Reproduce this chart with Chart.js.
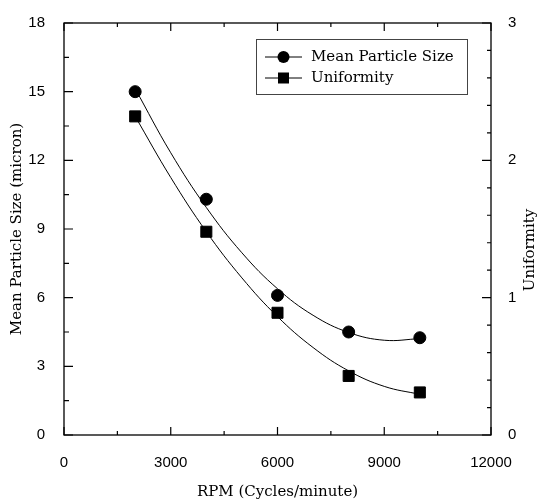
<!DOCTYPE html>
<html>
<head>
<meta charset="utf-8">
<script src="https://cdn.jsdelivr.net/npm/chart.js@4.4.0/dist/chart.umd.min.js"></script>
<style>
    html, body { margin: 0; padding: 0; background: #fff; }
    #wrap { width: 538px; height: 502px; }
</style>
</head>
<body>
<div id="wrap"><canvas id="myChart"></canvas></div>
<script>
// measured points
var rpm = [2000, 4000, 6000, 8000, 10000];
var meanSize = [15.0, 10.3, 6.1, 4.5, 4.25];     // micron, left axis
var uniformity = [2.32, 1.48, 0.89, 0.43, 0.31]; // right axis

// fitted curves
var curveRpm = [2000, 3000, 4000, 5000, 6000, 7000, 8000, 9000, 10000];
var sizeCurve = [15.13, 12.33, 9.94, 7.96, 6.39, 5.23, 4.48, 4.14, 4.21];
var uniformityCurve = [2.32, 1.875, 1.48, 1.144, 0.862, 0.637, 0.467, 0.354, 0.296];

var xTicks = [0, 3000, 6000, 9000, 12000];
var yTicks = [0, 3, 6, 9, 12, 15, 18];
var y2Ticks = [0, 1, 2, 3];

function toPoints(xs, ys) {
    var out = [];
    for (var i = 0; i < xs.length; i++) {
        out.push({ x: xs[i], y: ys[i] });
    }
    return out;
}

var serif = '"DejaVu Serif", "Liberation Serif", serif';
var sans = '"Liberation Sans", Arial, sans-serif';

// frame, inward tick marks, legend box and right axis title
var decorations = {
    id: 'decorations',
    afterDraw: function(chart) {
        var ctx = chart.ctx;
        var area = chart.chartArea;
        var x = chart.scales.x, y = chart.scales.y, y2 = chart.scales.y2;
        var v, p, len;

        ctx.save();
        ctx.strokeStyle = '#000';
        ctx.lineWidth = 1.3;
        ctx.strokeRect(area.left, area.top, area.right - area.left, area.bottom - area.top);

        ctx.lineWidth = 1.2;
        ctx.beginPath();
        for (v = 0; v <= 12000; v += 1500) {
            p = x.getPixelForValue(v);
            len = (v % 3000 === 0) ? 8 : 4;
            ctx.moveTo(p, area.bottom); ctx.lineTo(p, area.bottom - len);
            ctx.moveTo(p, area.top); ctx.lineTo(p, area.top + len);
        }
        for (v = 0; v <= 18; v += 1.5) {
            p = y.getPixelForValue(v);
            len = (v % 3 === 0) ? 9 : 5;
            ctx.moveTo(area.left, p); ctx.lineTo(area.left + len, p);
        }
        for (var k = 0; k <= 15; k++) {
            p = y2.getPixelForValue(k * 0.2);
            len = (k % 5 === 0) ? 9 : 4;
            ctx.moveTo(area.right, p); ctx.lineTo(area.right - len, p);
        }
        ctx.stroke();

        // legend
        ctx.strokeStyle = '#444';
        ctx.lineWidth = 1;
        ctx.strokeRect(256.5, 39.5, 211, 55);
        var rows = [
            { label: chart.data.datasets[0].label, style: 'circle', y: 57 },
            { label: chart.data.datasets[1].label, style: 'rect', y: 78 }
        ];
        ctx.font = '15px ' + serif;
        ctx.textBaseline = 'middle';
        ctx.textAlign = 'left';
        rows.forEach(function(r) {
            ctx.strokeStyle = '#000';
            ctx.beginPath();
            ctx.moveTo(265, r.y); ctx.lineTo(302, r.y);
            ctx.stroke();
            ctx.fillStyle = '#000';
            if (r.style === 'circle') {
                ctx.beginPath();
                ctx.arc(283.5, r.y, 6, 0, Math.PI * 2);
                ctx.fill();
            } else {
                ctx.fillRect(278, r.y - 5.5, 11, 11);
            }
            ctx.fillText(r.label, 311, r.y);
        });

        // right axis title, reads bottom to top
        ctx.font = '15px ' + serif;
        ctx.translate(530, 250);
        ctx.rotate(-Math.PI / 2);
        ctx.textAlign = 'center';
        ctx.fillText('Uniformity', 0, 0);
        ctx.restore();
    }
};

var ctx = document.getElementById('myChart').getContext('2d');
var myChart = new Chart(ctx, {
    type: 'scatter',
    data: {
        datasets: [{
            label: 'Mean Particle Size',
            data: toPoints(rpm, meanSize),
            yAxisID: 'y',
            showLine: false,
            pointStyle: 'circle',
            pointRadius: 6,
            backgroundColor: '#000',
            borderColor: '#000',
            order: 0
        }, {
            label: 'Uniformity',
            data: toPoints(rpm, uniformity),
            yAxisID: 'y2',
            showLine: false,
            pointStyle: 'rect',
            pointRadius: 7.8,
            backgroundColor: '#000',
            borderColor: '#000',
            order: 0
        }, {
            label: 'size fit',
            data: toPoints(curveRpm, sizeCurve),
            yAxisID: 'y',
            showLine: true,
            pointRadius: 0,
            borderColor: '#000',
            borderWidth: 1,
            tension: 0.4,
            order: 1
        }, {
            label: 'uniformity fit',
            data: toPoints(curveRpm, uniformityCurve),
            yAxisID: 'y2',
            showLine: true,
            pointRadius: 0,
            borderColor: '#000',
            borderWidth: 1,
            tension: 0.4,
            order: 1
        }]
    },
    options: {
        responsive: true,
        maintainAspectRatio: false,
        animation: false,
        layout: { padding: { top: 23, left: 0, right: 0, bottom: 0 } },
        plugins: {
            legend: { display: false },
            tooltip: { enabled: false }
        },
        scales: {
            x: {
                type: 'linear',
                position: 'bottom',
                min: 0,
                max: 12000,
                afterBuildTicks: function(scale) {
                    scale.ticks = xTicks.map(function(v) { return { value: v }; });
                },
                afterFit: function(scale) { scale.height = 67; },
                grid: { display: false },
                border: { display: false },
                ticks: {
                    color: '#000',
                    padding: 11,
                    maxRotation: 0,
                    font: { family: sans, size: 15 },
                    callback: function(v) { return String(v); }
                },
                title: {
                    display: true,
                    text: 'RPM (Cycles/minute)',
                    color: '#000',
                    font: { family: serif, size: 15 },
                    padding: { top: 0, bottom: 1 }
                }
            },
            y: {
                type: 'linear',
                position: 'left',
                min: 0,
                max: 18,
                afterBuildTicks: function(scale) {
                    scale.ticks = yTicks.map(function(v) { return { value: v }; });
                },
                afterFit: function(scale) { scale.width = 64; },
                grid: { display: false },
                border: { display: false },
                ticks: {
                    color: '#000',
                    padding: 11,
                    font: { family: sans, size: 15 }
                },
                title: {
                    display: true,
                    text: 'Mean Particle Size (micron)',
                    color: '#000',
                    font: { family: serif, size: 15 },
                    padding: { top: 8, bottom: 0 }
                }
            },
            y2: {
                type: 'linear',
                position: 'right',
                min: 0,
                max: 3,
                afterBuildTicks: function(scale) {
                    scale.ticks = y2Ticks.map(function(v) { return { value: v }; });
                },
                afterFit: function(scale) { scale.width = 47; },
                grid: { display: false },
                border: { display: false },
                ticks: {
                    color: '#000',
                    padding: 9,
                    font: { family: sans, size: 15 }
                }
            }
        }
    },
    plugins: [decorations]
});
</script>
</body>
</html>
